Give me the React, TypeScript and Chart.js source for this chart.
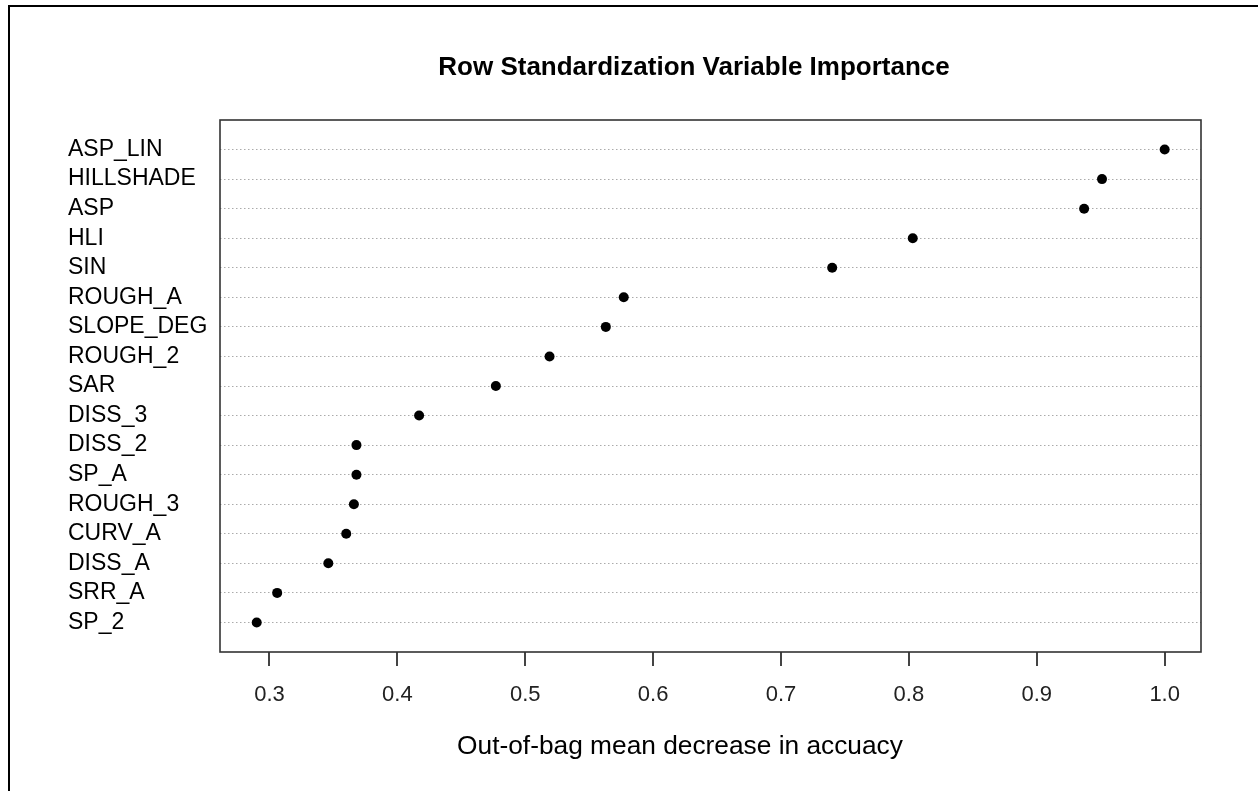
import React, { useEffect, useRef } from "react";
import { Chart, registerables } from "chart.js";

Chart.register(...registerables);

const TITLE = "Row Standardization Variable Importance";
const X_TITLE = "Out-of-bag mean decrease in accuacy";

// top to bottom as shown
const variables = [
  "ASP_LIN", "HILLSHADE", "ASP", "HLI", "SIN", "ROUGH_A", "SLOPE_DEG", "ROUGH_2",
  "SAR", "DISS_3", "DISS_2", "SP_A", "ROUGH_3", "CURV_A", "DISS_A", "SRR_A", "SP_2",
];
const importance = [
  1.0, 0.951, 0.937, 0.803, 0.74, 0.577, 0.563, 0.519,
  0.477, 0.417, 0.368, 0.368, 0.366, 0.36, 0.346, 0.306, 0.29,
];
const xTicks = [0.3, 0.4, 0.5, 0.6, 0.7, 0.8, 0.9, 1.0];
const xRange = [0.2613, 1.0284];
const yRange = [0, 18];

const FONT = "'Liberation Sans', Arial, sans-serif";

export default function App() {
  const ref = useRef<HTMLCanvasElement | null>(null);

  useEffect(() => {
    const canvas = ref.current;
    if (!canvas) return;
    const n = variables.length;
    const rows = variables.map((_, i) => n - i);
    const points = importance.map((v, i) => ({ x: v, y: rows[i] }));

    const framePlugin = {
      id: "frameAndTitles",
      beforeDatasetsDraw(chart: any) {
        const { ctx, chartArea: a } = chart;
        ctx.save();
        ctx.strokeStyle = "#333";
        ctx.lineWidth = 1.6;
        ctx.strokeRect(a.left, a.top, a.right - a.left, a.bottom - a.top);
        ctx.restore();
      },
      afterDraw(chart: any) {
        const { ctx } = chart;
        ctx.save();
        ctx.fillStyle = "#000";
        ctx.textAlign = "center";
        ctx.textBaseline = "alphabetic";
        ctx.font = `bold 26px ${FONT}`;
        ctx.fillText(TITLE, 694, 74.5);
        ctx.font = `26.3px ${FONT}`;
        ctx.fillText(X_TITLE, 680, 754);
        ctx.restore();
      },
    };

    const chart = new Chart(canvas, {
      type: "scatter",
      data: {
        datasets: [
          {
            data: points,
            pointRadius: 5,
            pointHoverRadius: 5,
            pointBackgroundColor: "#000",
            pointBorderWidth: 0,
            showLine: false,
          },
        ],
      },
      options: {
        responsive: false,
        animation: false,
        events: [],
        layout: { padding: { left: 68, right: 57, top: 120, bottom: 59 } },
        plugins: {
          legend: { display: false },
          title: { display: false },
          tooltip: { enabled: false },
        },
        scales: {
          x: {
            type: "linear",
            min: xRange[0],
            max: xRange[1],
            afterBuildTicks: (axis: any) => {
              axis.ticks = xTicks.map((v) => ({ value: v }));
            },
            afterFit: (axis: any) => {
              axis.height = 80;
            },
            grid: {
              drawOnChartArea: false,
              drawTicks: true,
              tickLength: 14,
              color: "#444",
              lineWidth: 2,
            },
            border: { display: false },
            ticks: {
              padding: 16,
              color: "#222",
              font: { family: FONT, size: 22 },
              callback: (v: any) => Number(v).toFixed(1),
              maxRotation: 0,
              autoSkip: false,
            },
          },
          y: {
            type: "linear",
            min: yRange[0],
            max: yRange[1],
            afterBuildTicks: (axis: any) => {
              axis.ticks = rows.map((r) => ({ value: r }));
            },
            afterFit: (axis: any) => {
              axis.width = 152;
            },
            grid: {
              drawOnChartArea: true,
              drawTicks: false,
              color: "#ababab",
              lineWidth: 1,
            },
            border: { display: false, dash: [1.5, 2.5] },
            ticks: {
              crossAlign: "far",
              padding: 8,
              color: "#000",
              font: { family: FONT, size: 23 },
              autoSkip: false,
              callback: (v: any) => {
                const idx = n - Number(v);
                return variables[idx] ?? "";
              },
            },
          },
        },
      },
      plugins: [framePlugin],
    } as any);

    return () => chart.destroy();
  }, []);

  return (
    <div
      style={{
        position: "fixed",
        left: 0,
        top: 0,
        width: 1258,
        height: 791,
        overflow: "hidden",
        background: "#fff",
      }}
    >
      <canvas
        ref={ref}
        width={1258}
        height={791}
        style={{ position: "absolute", left: 0, top: 0, display: "block" }}
      />
      <div
        style={{
          position: "absolute",
          left: 8,
          top: 5,
          width: 1400,
          height: 1000,
          borderTop: "2.5px solid #000",
          borderLeft: "2.5px solid #000",
          pointerEvents: "none",
        }}
      />
    </div>
  );
}
